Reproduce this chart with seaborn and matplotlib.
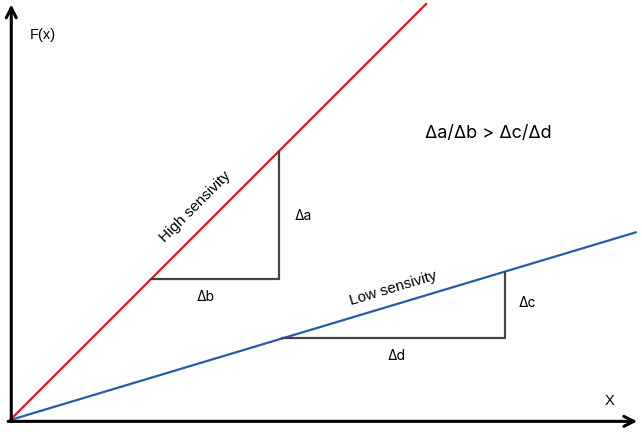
import matplotlib
matplotlib.use("Agg")
import matplotlib.pyplot as plt
import seaborn as sns
import numpy as np
import pandas as pd

# Data (abstract units)
high_slope = 1.0
low_slope = 0.3
high_x = [0.0, 6.65]
low_x = [0.0, 10.0]
tri_high = [2.25, 4.3]   # x-range of the high-sensitivity triangle
tri_low = [4.35, 7.9]    # x-range of the low-sensitivity triangle

sns.set_style("white")
plt.rcParams['font.family'] = ['Liberation Sans', 'DejaVu Sans']
plt.rcParams['text.color'] = 'black'

fig = plt.figure(figsize=(6.42, 4.32), dpi=100)
ax = fig.add_axes([0, 0, 1, 1])
ax.set_xlim(-0.16, 10.096)
ax.set_ylim(-0.19, 6.71)
ax.axis('off')

df = pd.DataFrame({
    'x': high_x + low_x,
    'y': [high_slope * v for v in high_x] + [low_slope * v for v in low_x],
    'series': ['High', 'High', 'Low', 'Low'],
})
sns.lineplot(data=df, x='x', y='y', hue='series', palette={'High': '#E8141E', 'Low': '#2A5BA8'},
             legend=False, ax=ax, linewidth=1.6)

tri_col = '#444444'
# high triangle
ax.plot(tri_high, [high_slope * tri_high[0]] * 2, color=tri_col, lw=1.6)
ax.plot([tri_high[1]] * 2, [high_slope * tri_high[0], high_slope * tri_high[1]], color=tri_col, lw=1.6)
# low triangle
ax.plot(tri_low, [low_slope * tri_low[0]] * 2, color=tri_col, lw=1.6)
ax.plot([tri_low[1]] * 2, [low_slope * tri_low[0], low_slope * tri_low[1]], color=tri_col, lw=1.6)

# axes arrows
ax.annotate('', xy=(0.02, 6.64), xytext=(0.02, -0.02),
            arrowprops=dict(arrowstyle='->', lw=2.2, color='black', mutation_scale=18, shrinkA=0, shrinkB=0))
ax.annotate('', xy=(10.02, -0.02), xytext=(-0.03, -0.02),
            arrowprops=dict(arrowstyle='->', lw=2.2, color='black', mutation_scale=18, shrinkA=0, shrinkB=0))

ax.text(0.53, 6.15, 'F(x)', fontsize=10.5, ha='center', va='center', color='black')
ax.text(9.57, 0.30, 'X', fontsize=10.5, ha='center', va='center', color='black')
ax.text(2.96, 3.40, 'High sensivity', fontsize=11, ha='center', va='center', color='black',
        rotation=np.degrees(np.arctan(high_slope)), rotation_mode='anchor')
ax.text(6.12, 2.10, 'Low sensivity', fontsize=11, ha='center', va='center', color='black',
        rotation=np.degrees(np.arctan(low_slope)), rotation_mode='anchor')
dfam = ['Inter', 'DejaVu Sans']
ax.text(7.64, 4.58, 'Δa/Δb > Δc/Δd', fontsize=13, ha='center', va='center', family=dfam, color='black')
ax.text(4.68, 3.26, 'Δa', fontsize=10, ha='center', va='center', family=dfam, color='black')
ax.text(3.12, 1.96, 'Δb', fontsize=10, ha='center', va='center', family=dfam, color='black')
ax.text(8.26, 1.87, 'Δc', fontsize=10, ha='center', va='center', family=dfam, color='black')
ax.text(6.17, 1.02, 'Δd', fontsize=10, ha='center', va='center', family=dfam, color='black')

fig.savefig('out.png', dpi=100)
